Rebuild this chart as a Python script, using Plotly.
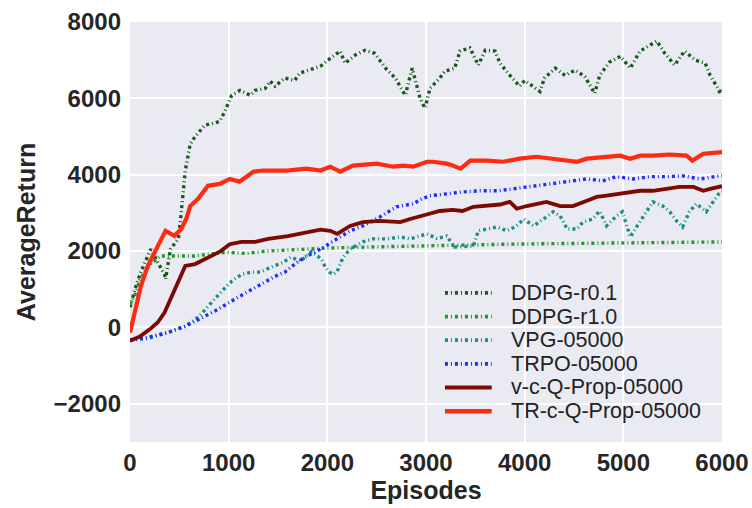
import plotly.graph_objects as go

# ---------------- data ----------------
ddpg01_x = [0, 50, 110, 210, 280, 350, 360, 410, 490, 510, 560, 610, 660, 760, 850, 910, 960, 1030, 1115, 1220,
            1270, 1370, 1420, 1470, 1570, 1670, 1720, 1820, 1930, 2030, 2130, 2180, 2280, 2380, 2480, 2590, 2690,
            2790, 2860, 2940, 2990, 3040, 3140, 3190, 3290, 3345, 3445, 3530, 3600, 3700, 3750, 3850, 3950, 4000,
            4155, 4200, 4310, 4410, 4510, 4610, 4710, 4760, 4860, 4970, 5070, 5170, 5270, 5340, 5420, 5520, 5620,
            5730, 5830, 5880, 5960, 5980, 6000]
ddpg01_y = [530, 1000, 1450, 2050, 1710, 1390, 1260, 2050, 2320, 2760, 4100, 4800, 5000, 5300, 5350, 5400, 5650,
            6080, 6210, 6080, 6210, 6260, 6450, 6320, 6530, 6470, 6660, 6740, 6840, 7050, 7240, 6920, 7130, 7260,
            7180, 6790, 6530, 6080, 6790, 6000, 5740, 6260, 6530, 6710, 6790, 7240, 7320, 6870, 7260, 7240, 6920,
            6600, 6320, 6470, 6180, 6530, 6790, 6600, 6740, 6570, 6130, 6600, 6950, 7100, 6790, 7240, 7400, 7500,
            7180, 6870, 7240, 7000, 6920, 6600, 6260, 6130, 6300]

ddpg10_x = [0, 50, 100, 200, 310, 480, 650, 980, 1180, 1380, 1710, 2000, 2300, 2600, 2900, 3200, 3500, 3800,
            4100, 4400, 4700, 5000, 5300, 5600, 5900, 6000]
ddpg10_y = [600, 850, 1250, 1650, 1870, 1870, 1870, 1970, 1940, 2000, 2050, 2080, 2100, 2120, 2130, 2150, 2160,
            2180, 2190, 2200, 2210, 2220, 2230, 2230, 2240, 2240]

vpg_x = [0, 180, 385, 560, 700, 760, 830, 930, 1030, 1130, 1230, 1320, 1450, 1550, 1630, 1730, 1840, 1940, 1980,
         2020, 2060, 2100, 2160, 2230, 2360, 2460, 2600, 2740, 2840, 3010, 3110, 3210, 3290, 3400, 3480, 3530,
         3620, 3720, 3820, 3920, 3990, 4090, 4190, 4290, 4360, 4430, 4530, 4590, 4690, 4760, 4830, 4930, 4990,
         5040, 5070, 5140, 5240, 5300, 5400, 5470, 5540, 5600, 5670, 5740, 5840, 5910, 5980, 6000]
vpg_y = [-320, -290, -130, 30, 290, 470, 660, 950, 1210, 1390, 1450, 1450, 1600, 1700, 1840, 1740, 1990, 1790,
         1580, 1450, 1390, 1470, 1840, 2050, 2240, 2320, 2320, 2370, 2320, 2450, 2330, 2390, 2110, 2130, 2130,
         2530, 2580, 2630, 2530, 2660, 2840, 2660, 2840, 3030, 2920, 2580, 2580, 2760, 2840, 3050, 2660, 2920,
         3030, 2580, 2370, 2660, 3030, 3290, 3180, 3030, 2790, 2630, 3030, 3240, 3030, 3290, 3550, 3560]

trpo_x = [0, 50, 180, 385, 560, 760, 890, 1020, 1200, 1330, 1470, 1570, 1670, 1770, 1930, 2060, 2230, 2360, 2530,
          2700, 2870, 2960, 3040, 3210, 3370, 3550, 3720, 3880, 4050, 4260, 4430, 4630, 4790, 4930, 5100, 5270,
          5440, 5600, 5780, 5950, 6000]
trpo_y = [-330, -320, -260, -130, 30, 290, 470, 680, 950, 1130, 1340, 1450, 1660, 1840, 2050, 2260, 2530, 2660,
          2890, 3160, 3240, 3370, 3450, 3500, 3550, 3580, 3580, 3630, 3680, 3760, 3820, 3890, 3840, 3950, 3890,
          3950, 3950, 3970, 3890, 3970, 3980]

vcq_x = [0, 100, 200, 280, 350, 410, 480, 560, 660, 790, 920, 1010, 1130, 1270, 1400, 1600, 1800, 1930, 2030,
         2100, 2230, 2360, 2530, 2740, 2840, 2960, 3070, 3140, 3270, 3370, 3480, 3620, 3750, 3850, 3920, 4020,
         4160, 4220, 4360, 4490, 4630, 4730, 4830, 4970, 5040, 5170, 5300, 5440, 5570, 5710, 5810, 5880, 5980, 6000]
vcq_y = [-350, -240, -50, 130, 390, 740, 1180, 1610, 1660, 1840, 2000, 2180, 2240, 2240, 2320, 2390, 2500, 2560,
         2530, 2450, 2660, 2760, 2790, 2760, 2840, 2930, 2990, 3050, 3080, 3050, 3160, 3180, 3220, 3290, 3110,
         3180, 3240, 3290, 3180, 3180, 3320, 3420, 3450, 3500, 3550, 3580, 3580, 3630, 3680, 3680, 3580, 3630,
         3680, 3700]

trq_x = [0, 50, 110, 180, 280, 360, 450, 520, 570, 610, 690, 790, 910, 1010, 1110, 1250, 1350, 1450, 1590, 1790,
         1930, 2030, 2130, 2260, 2500, 2670, 2770, 2870, 3010, 3070, 3210, 3270, 3350, 3450, 3620, 3780, 3950,
         4120, 4290, 4460, 4530, 4630, 4790, 4970, 5070, 5170, 5300, 5470, 5640, 5700, 5810, 5980, 6000]
trq_y = [-130, 390, 1080, 1610, 2130, 2530, 2400, 2580, 2840, 3180, 3370, 3710, 3760, 3890, 3820, 4080, 4110,
         4100, 4110, 4160, 4110, 4210, 4080, 4240, 4290, 4210, 4240, 4210, 4340, 4340, 4290, 4240, 4160, 4370,
         4370, 4340, 4420, 4470, 4420, 4370, 4340, 4420, 4470, 4500, 4420, 4500, 4500, 4530, 4500, 4370, 4550,
         4580, 4590]

series_names = ["DDPG-r0.1", "DDPG-r1.0", "VPG-05000", "TRPO-05000", "v-c-Q-Prop-05000", "TR-c-Q-Prop-05000"]
x_ticks = [0, 1000, 2000, 3000, 4000, 5000, 6000]
y_ticks = [-2000, 0, 2000, 4000, 6000, 8000]
y_tick_text = ["\u22122000", "0", "2000", "4000", "6000", "8000"]

# ---------------- styles ----------------
DOT = "3px,3px,1px,3px"
styles = [
    dict(color="#17591a", width=3.4, dash=DOT),
    dict(color="#23962a", width=3.4, dash=DOT),
    dict(color="#1a8c8a", width=3.4, dash=DOT),
    dict(color="#1f2bff", width=3.4, dash=DOT),
    dict(color="#7c0a02", width=3.8, dash="solid"),
    dict(color="#ff2a12", width=4.2, dash="solid"),
]
xs = [ddpg01_x, ddpg10_x, vpg_x, trpo_x, vcq_x, trq_x]
ys = [ddpg01_y, ddpg10_y, vpg_y, trpo_y, vcq_y, trq_y]

fig = go.Figure()
for name, x, y, st in zip(series_names, xs, ys, styles):
    assert len(x) == len(y), name
    fig.add_trace(go.Scatter(x=x, y=y, mode="lines", name=name, line=st, showlegend=False))

# manual legend (matplotlib-like, compact rows)
FONT = "Liberation Sans, Arial, sans-serif"
leg_top = 0.355
leg_step = 0.0563
for i, (name, st) in enumerate(zip(series_names, styles)):
    yy = leg_top - i * leg_step
    fig.add_shape(type="line", xref="paper", yref="paper", x0=0.532, x1=0.611, y0=yy, y1=yy,
                  line=dict(color=st["color"], width=st["width"] + 0.3, dash=st["dash"]))
    fig.add_annotation(xref="paper", yref="paper", x=0.640, y=yy, text=name, showarrow=False,
                       xanchor="left", yanchor="middle",
                       font=dict(family=FONT, size=21.5, color="#222222"))

axis_common = dict(
    showgrid=True, gridcolor="white", gridwidth=1.6, zeroline=False, showline=False,
    ticks="", automargin=False,
    tickfont=dict(family=FONT, size=24, color="#262626", weight="bold"),
)
fig.update_layout(
    width=752, height=508,
    margin=dict(l=130, r=30, t=22, b=66),
    paper_bgcolor="white", plot_bgcolor="#eaeaf2",
    font=dict(family=FONT, color="#262626"),
    xaxis=dict(range=[0, 6000], tickvals=x_ticks, ticklabelstandoff=4,
               title=dict(text="Episodes", standoff=2,
                          font=dict(family=FONT, size=25, color="#262626", weight="bold")),
               **axis_common),
    yaxis=dict(range=[-3000, 8000], tickvals=y_ticks, ticktext=y_tick_text, ticklabelstandoff=8,
               title=dict(text="AverageReturn", standoff=10,
                          font=dict(family=FONT, size=25, color="#262626", weight="bold")),
               **axis_common),
)

fig.write_html("out.html", config={"displayModeBar": False},
               post_script="document.body.style.margin='0';")
